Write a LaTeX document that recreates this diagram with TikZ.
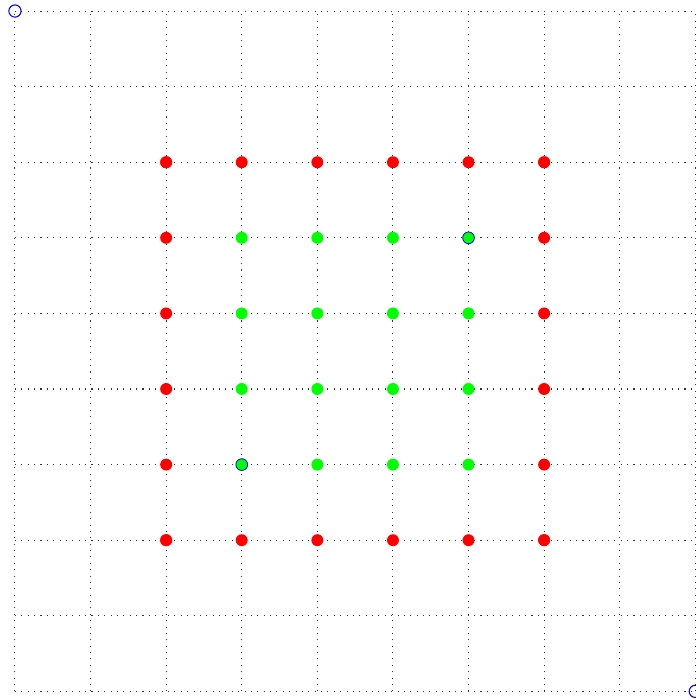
\documentclass[tikz,border=0pt]{standalone}
\usepackage{tikz}
\usetikzlibrary{positioning,calc}

\begin{document}
\begin{tikzpicture}
\useasboundingbox (-0.198, -0.114) rectangle (9.008, 9.146);

\tikzset{
  outerdot/.style={fill=red, shape=circle, inner sep=0, minimum size=4.5pt},
  innerdot/.style={fill=green, shape=circle, inner sep=0, minimum size=4.5pt},
  markdot/.style={draw=blue, line width=0.3pt, fill=green, shape=circle, inner sep=0, minimum size=4.4pt},
  corner/.style={draw=blue, line width=0.4pt, shape=circle, inner sep=0, minimum size=4.6pt}
}

% grid
\foreach \i in {0,...,9} {
  \draw[dotted, black!80] (\i, 0) -- (\i, 9);
  \draw[dotted, black!80] (0, \i) -- (9, \i);
}

% ring of red points
\foreach \i in {2,...,7} {
  \path (\i, 7) node[outerdot] (top\i) {};
  \path (\i, 2) node[outerdot] (bot\i) {};
  \path (2, \i) node[outerdot] (left\i) {};
  \path (7, \i) node[outerdot] (right\i) {};
}

% inner green points
\foreach \i in {3,...,6} {
  \foreach \j in {3,...,6} {
    \path (\i, \j) node[innerdot] (in\i\j) {};
  }
}
\path (6, 6) node[markdot] (mark1) {};
\path (3, 3) node[markdot] (mark2) {};

% corners
\path (0, 9) node[corner] (start) {};
\path (9, 0) node[corner] (goal) {};
\end{tikzpicture}
\end{document}
